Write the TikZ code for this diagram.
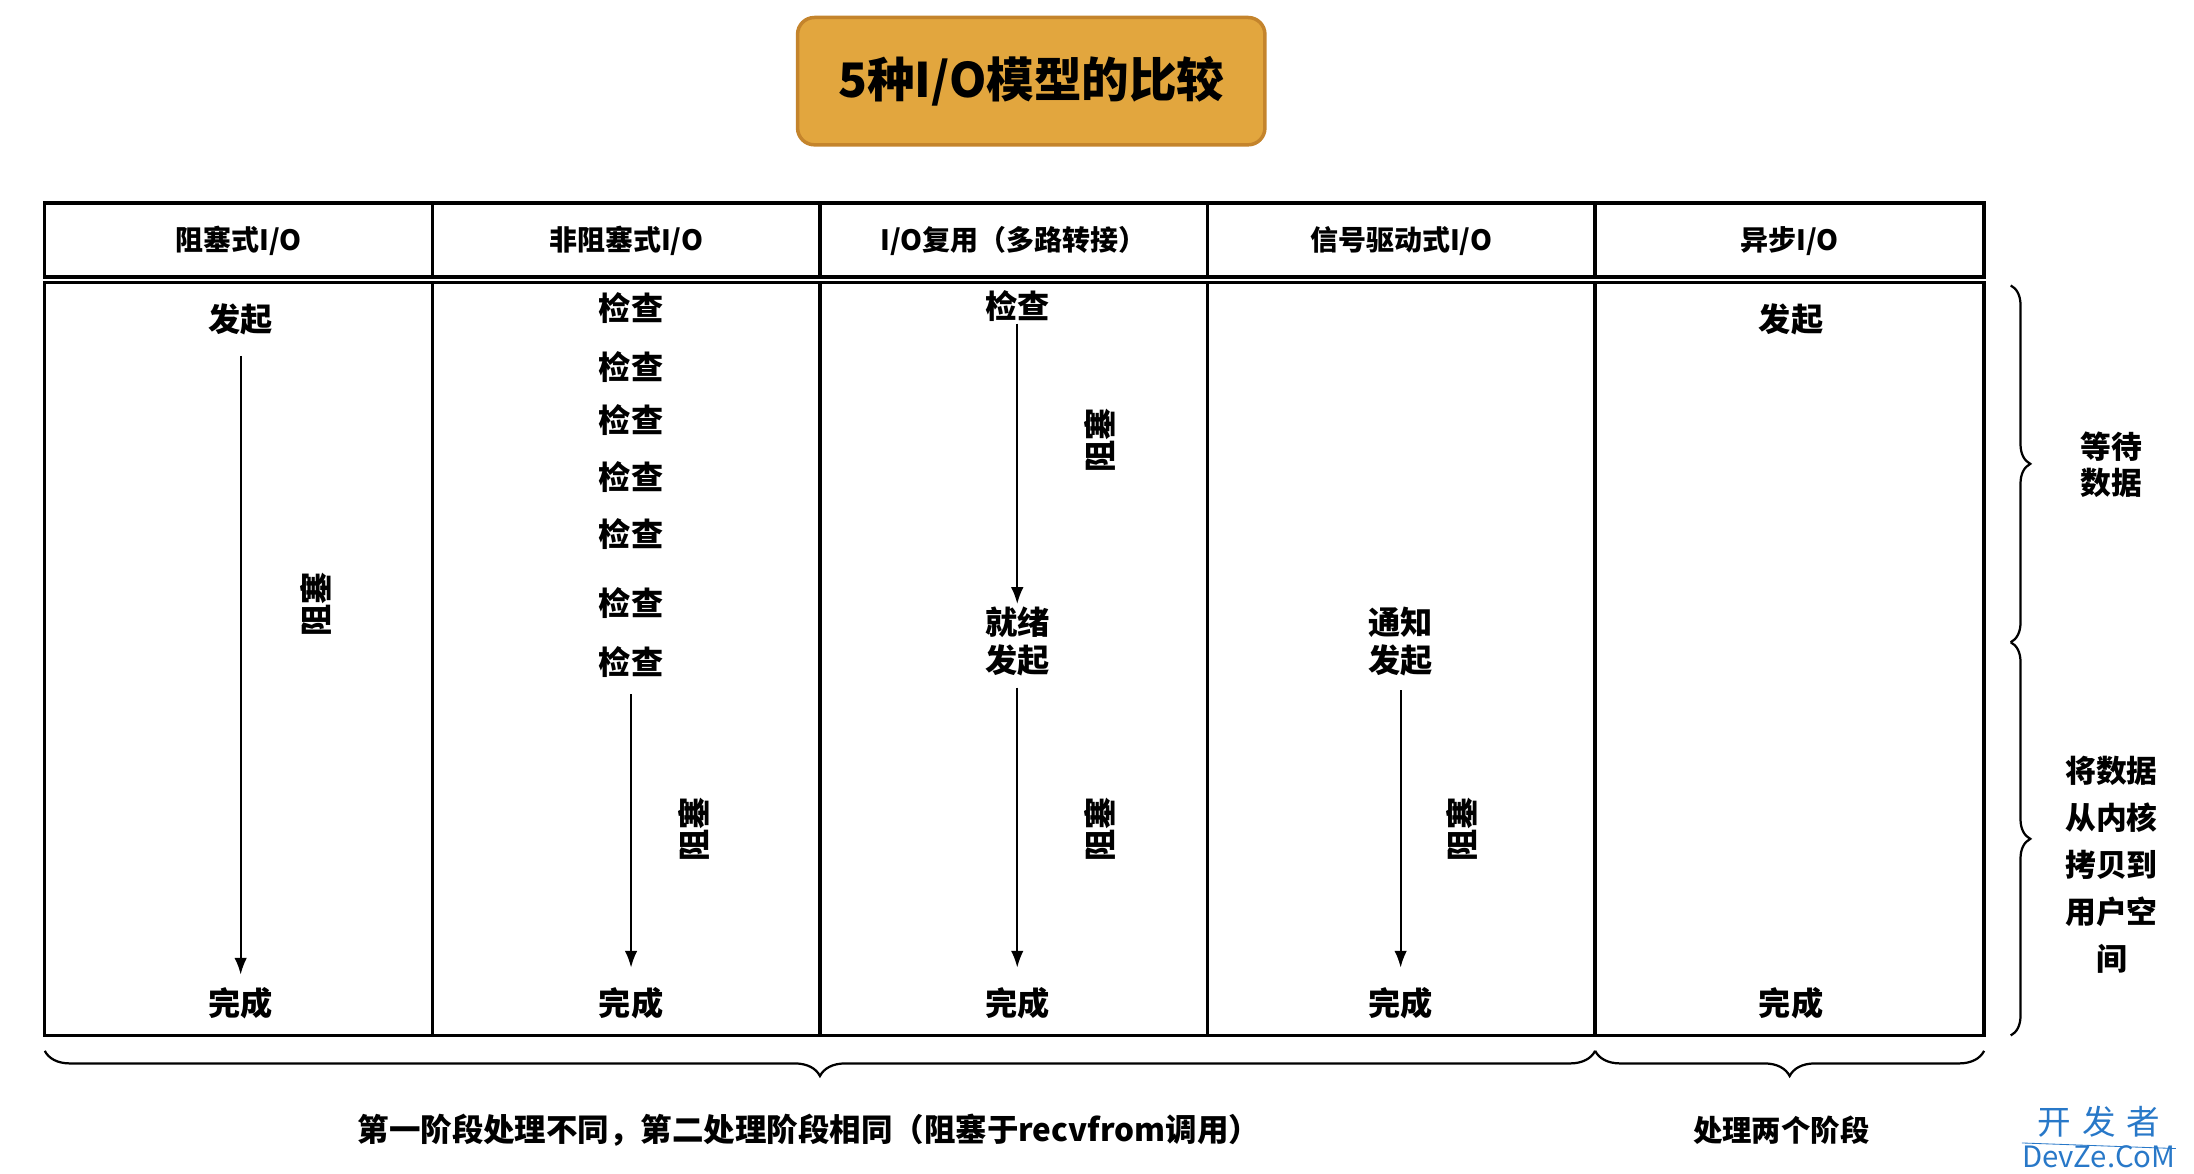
\documentclass[tikz,border=0pt]{standalone}
\usepackage{fontspec}
\setmainfont{Noto Sans CJK SC}
\usetikzlibrary{arrows.meta,decorations.pathreplacing}
\definecolor{titlefill}{RGB}{226,166,62}
\definecolor{titledraw}{RGB}{196,132,44}
\definecolor{wmblue}{RGB}{40,120,200}
\begin{document}
\begin{tikzpicture}[x=1pt,y=-1pt,
  txt/.style={font=\fontsize{23}{27}\selectfont\bfseries, inner sep=0, align=center},
  hd/.style={font=\fontsize{20}{22}\selectfont\bfseries, inner sep=0},
  vtxt/.style={txt, rotate=90},
  arr/.style={-{Latex[length=12,width=9]}, line width=1.4},
  frame/.style={line width=2.4},
  brc/.style={decorate, decoration={brace, amplitude=#1}, line width=1.6},
  ]
\useasboundingbox (0,0) rectangle (1568,839);
% title
\node[draw=titledraw, fill=titlefill, line width=2.5, rounded corners=12,
      minimum width=334, minimum height=91,
      font=\fontsize{34}{40}\selectfont\bfseries] (title) at (737,58) {5种I/O模型的比较};
% table
\draw[frame] (32,145) rectangle (1418,198);
\draw[frame] (32,202) rectangle (1418,740);
\foreach \x in {309,586,863,1140}{
  \draw[frame] (\x,145) -- (\x,198);
  \draw[frame] (\x,202) -- (\x,740);
}
\node[hd] (h1) at (170.5,172) {阻塞式I/O};
\node[hd] (h2) at (447.5,172) {非阻塞式I/O};
\node[hd] (h3) at (724.5,172) {I/O复用（多路转接）};
\node[hd] (h4) at (1001.5,172) {信号驱动式I/O};
\node[hd] (h5) at (1279,172) {异步I/O};
% column 1
\node[txt] (c1s) at (172,228) {发起};
\node[txt] (c1e) at (172,717) {完成};
\draw[arr, shorten <=15, shorten >=9] (c1s.south) -- (c1e.north);
\node[vtxt] (c1b) at (226,432) {阻塞};
% column 2
\foreach \y [count=\i] in {220,262,300,341,382,431,473}{
  \node[txt] (c2k\i) at (451,\y) {检查};
}
\node[txt] (c2e) at (451,717) {完成};
\draw[arr, shorten <=12, shorten >=14] (c2k7.south) -- (c2e.north);
\node[vtxt] (c2b) at (496,593) {阻塞};
% column 3
\node[txt] (c3k) at (727,219) {检查};
\node[txt] (c3r) at (727,458.5) {就绪\\发起};
\node[txt] (c3e) at (727,717) {完成};
\draw[arr, shorten <=1, shorten >=2] (c3k.south) -- (c3r.north);
\draw[arr, shorten <=8, shorten >=14] (c3r.south) -- (c3e.north);
\node[vtxt] (c3b1) at (786,315) {阻塞};
\node[vtxt] (c3b2) at (786,593) {阻塞};
% column 4
\node[txt] (c4n) at (1001,458.5) {通知\\发起};
\node[txt] (c4e) at (1001,717) {完成};
\draw[arr, shorten <=10, shorten >=14] (c4n.south) -- (c4e.north);
\node[vtxt] (c4b) at (1045,593) {阻塞};
% column 5
\node[txt] (c5s) at (1280,228) {发起};
\node[txt] (c5e) at (1280,717) {完成};
% right braces
\coordinate (rb1) at (1437,204);
\coordinate (rb2) at (1437,459);
\coordinate (rb3) at (1437,740);
\draw[brc=14] (rb1) -- (rb2);
\draw[brc=14] (rb2) -- (rb3);
\node[txt, font=\fontsize{22}{26}\selectfont\bfseries] (wait) at (1509,332) {等待\\数据};
\node[txt, font=\fontsize{22}{33.5}\selectfont\bfseries] (copy) at (1509,618) {将数据\\从内核\\拷贝到\\用户空\\间};
% bottom braces
\coordinate (bb1) at (32,751);
\coordinate (bb2) at (1140,751);
\coordinate (bb3) at (1418,751);
\draw[brc=18] (bb2) -- (bb1);
\draw[brc=18] (bb3) -- (bb2);
\node[txt, font=\fontsize{22.5}{26}\selectfont\bfseries] (phase1) at (578,808) {第一阶段处理不同，第二处理阶段相同（阻塞于recvfrom调用）};
\node[txt, font=\fontsize{21}{24}\selectfont\bfseries] (phase2) at (1273,808) {处理两个阶段};
% watermark
\node[inner sep=0, text=wmblue, font=\fontsize{24}{26}\selectfont] (wm1) at (1500,802) {开\,\,发\,\,者};
\node[inner sep=0, text=wmblue, font=\fontsize{21}{24}\selectfont] (wm2) at (1500,827) {DevZe.CoM};
\draw[wmblue, line width=0.6] (wm2.north west) ++(0,-2) -- ([yshift=-2]wm2.north east);
\end{tikzpicture}
\end{document}
